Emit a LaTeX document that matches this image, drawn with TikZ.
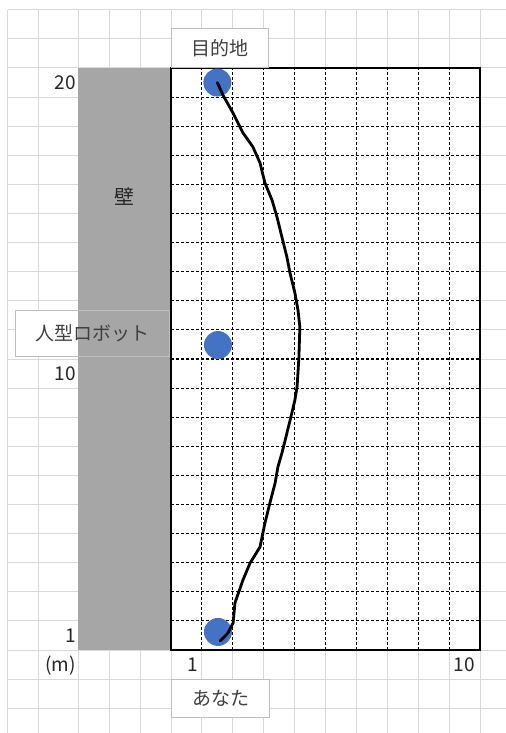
\documentclass[tikz,border=0pt]{standalone}
\usepackage{fontspec}
\setmainfont{Noto Sans CJK JP}
\usepackage{tikz}
\usetikzlibrary{positioning, backgrounds}
\definecolor{markerblue}{HTML}{4472C4}
\definecolor{wallgray}{HTML}{A6A6A6}
\definecolor{sheetgray}{HTML}{D9D9D9}

\begin{document}
\begin{tikzpicture}[
  x=30.9pt, y=29.1pt,
  sheetline/.style={draw=sheetgray, line width=1pt},
  gridrule/.style={draw=black, line width=1.1pt, dash pattern=on 3pt off 2pt},
  frame/.style={draw=black, line width=1.4pt},
  tagbox/.style={
    rectangle, draw=black!25, line width=1pt,
    minimum width=97pt, minimum height=39pt,
    text=black!75, font=\fontsize{19}{22}\selectfont
  },
  marker/.style={circle, fill=markerblue, minimum size=28pt, inner sep=0pt},
  route/.style={draw=black, line width=2.8pt, line join=round, line cap=round},
  axislbl/.style={anchor=east, inner sep=0pt, text=black!85, font=\fontsize{19}{22}\selectfont}
]

%% Sheet
\useasboundingbox (-5.534,-2.852) rectangle (10.841,22.337);
\begin{scope}[on background layer]
  \fill[white] (-5.534,-2.852) rectangle (10.841,22.337);
  \foreach \x in {-5.28,-4.3,-3,-2,-1,0,1,...,10}
    \draw[sheetline] (\x,-2.852) -- (\x,22);
  \foreach \y in {-2,...,22}
    \draw[sheetline] (-5.28,\y) -- (10.841,\y);
\end{scope}

%% Wall
\fill[wallgray] (-3,0) rectangle (0,20);
\node[text=black!85, font=\fontsize{20}{23}\selectfont] (walllabel) at (-1.49,15.57) {壁};

%% Floor grid
\fill[white] (0,0) rectangle (10,20);
\foreach \x in {1,...,9}
  \draw[gridrule] (\x,0) -- (\x,20);
\foreach \y in {1,...,19}
  \draw[gridrule] (0,\y) -- (10,\y);
\draw[frame] (0,0) rectangle (10,20);

%% Text boxes
\node[tagbox, fill=white, anchor=south west] (goalbox) at (0,20) {目的地};
\node[tagbox, fill=white, anchor=north west, minimum width=98pt, minimum height=38pt] (youbox) at (0,-1) {あなた};
\node[tagbox, anchor=east, minimum width=154pt, minimum height=46pt] (robotbox) at (-0.03,10.89) {人型ロボット};
\begin{scope}[on background layer]
  \fill[white] (robotbox.south west) rectangle (robotbox.north east);
\end{scope}

%% Positions
\node[marker] (goal) at (1.5,19.5) {};
\node[marker] (robot) at (1.52,10.48) {};
\node[marker] (you) at (1.52,0.62) {};

%% Route
\coordinate (routeend) at (1.59,0.31);
\draw[route] (goal.center) -- (1.68,19.07) -- (2.01,18.45) -- (2.33,17.77)
  -- (2.65,17.29) -- (2.88,16.74) -- (3.04,16.05) -- (3.27,15.46)
  -- (3.43,14.88) -- (3.59,14.19) -- (3.75,13.51) -- (3.85,12.96)
  -- (4.01,12.27) -- (4.11,11.68) -- (4.17,11.10) -- (4.14,10.07)
  -- (4.08,9.04) -- (4.01,8.59) -- (3.88,8.01) -- (3.72,7.32)
  -- (3.59,6.77) -- (3.46,6.29) -- (3.37,5.74) -- (3.20,5.05)
  -- (3.04,4.36) -- (2.88,3.54) -- (2.56,2.99) -- (2.33,2.41)
  -- (2.07,1.62) -- (2.01,0.93) -- (1.84,0.58) -- (routeend);

%% Axis labels
\node[axislbl] (ytop) at (-3.07,19.5) {20};
\node[axislbl] (ymid) at (-3.07,9.5) {10};
\node[axislbl] (ylow) at (-3.07,0.5) {1};
\node[axislbl] (unit) at (-3.07,-0.52) {(m)};
\node[axislbl] (xlow) at (0.87,-0.52) {1};
\node[axislbl] (xtop) at (9.84,-0.52) {10};

\end{tikzpicture}
\end{document}
